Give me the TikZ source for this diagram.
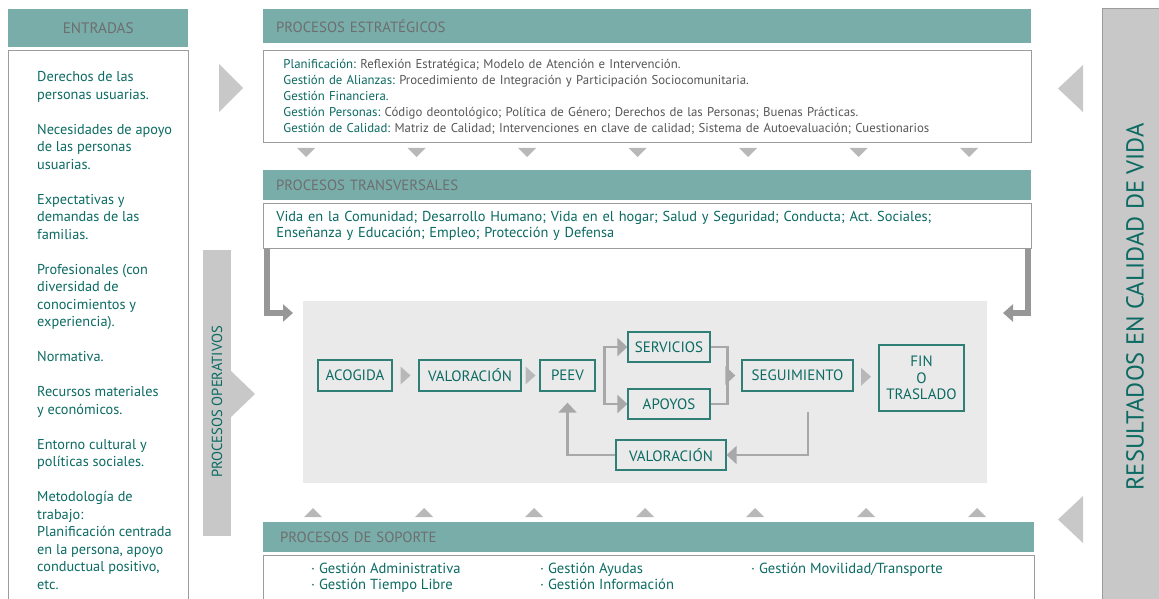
\documentclass[tikz,border=0pt]{standalone}
\usepackage{fontspec}
\setmainfont{PT Sans}
\usepackage{xcolor}
\usetikzlibrary{arrows.meta,calc,positioning}
\definecolor{headteal}{HTML}{78ADAA}
\definecolor{txtteal}{HTML}{0B6A62}
\definecolor{headtxt}{HTML}{6E6E6E}
\definecolor{bodygray}{HTML}{575757}
\definecolor{boxline}{HTML}{9C9C9C}
\definecolor{nodeteal}{HTML}{2F7F77}
\definecolor{flowgray}{HTML}{A8A8A8}
\definecolor{trigray}{HTML}{B8B8B8}
\definecolor{biggray}{HTML}{C8C8C8}
\definecolor{panelgray}{HTML}{EAEAEA}
\newcommand{\lbl}[1]{\textcolor{txtteal}{#1}}
\newcommand{\fs}[2]{\fontsize{#1}{#2}\selectfont}
\frenchspacing

\begin{document}
\begin{tikzpicture}[x=1pt,y=-1pt,
  head/.style={fill=headteal,text=headtxt,anchor=north west,inner ysep=0pt,align=left,font=\fs{14.8}{16}},
  box/.style={draw=boxline,line width=0.9pt,fill=white,anchor=north west,align=left,inner ysep=0pt},
  step box/.style={draw=nodeteal,line width=1.3pt,text=txtteal,inner sep=0pt,align=center,font=\fs{15}{16.5}},
  flow/.style={draw=flowgray,line width=2.6pt},
  flowtip/.style={flow,-{Triangle[width=18pt,length=10pt]}},
  bigflow/.style={draw=flowgray!90!black,line width=6pt,-{Triangle[width=17pt,length=10pt]}},
  tri/.style={fill=trigray}]
\useasboundingbox (0,0) rectangle (1159,599);

% entradas
\node[head,text width=180pt,inner xsep=0pt,minimum height=38pt,align=center,font=\fs{15.2}{16}] (Ent) at (8,9) {ENTRADAS};
\draw[draw=boxline,line width=0.9pt] (8,610) -- (8,50) -- (188,50) -- (188,610);
\node[anchor=north west,inner sep=0pt,align=left,text=txtteal,font=\fs{14.3}{17.5}] (EntTxt) at (37,71.5) {%
Derechos de las\\personas usuarias.\\[17.5pt]
Necesidades de apoyo\\de las personas\\usuarias.\\[17.5pt]
Expectativas y\\demandas de las\\familias.\\[17.5pt]
Profesionales (con\\diversidad de\\conocimientos y\\experiencia).\\[17.5pt]
Normativa.\\[17.5pt]
Recursos materiales\\y económicos.\\[17.5pt]
Entorno cultural y\\políticas sociales.\\[17.5pt]
Metodología de\\trabajo:\\Planificación centrada\\en la persona, apoyo\\conductual positivo,\\etc.};
\fill[biggray] (219,64) -- (243,88) -- (219,112) -- cycle;

% procesos estrategicos
\node[head,text width=742pt,inner xsep=13pt,minimum height=34pt] (Est) at (263,9) {PROCESOS ESTRATÉGICOS};
\node[box,text width=728pt,inner xsep=20pt,minimum height=92pt,text=bodygray,font=\fs{12.8}{16}] (EstBox) at (263,50) {%
\lbl{Planificación:} Reflexión Estratégica; Modelo de Atención e Intervención.\\
\lbl{Gestión de Alianzas:} Procedimiento de Integración y Participación Sociocomunitaria.\\
\lbl{Gestión Financiera.}\\
\lbl{Gestión Personas:} Código deontológico; Política de Género; Derechos de las Personas; Buenas Prácticas.\\
\lbl{Gestión de Calidad:} Matriz de Calidad; Intervenciones en clave de calidad; Sistema de Autoevaluación; Cuestionarios};
\foreach \x in {306,416.5,527,637.5,748,858.5,969}
  \fill[tri] (\x-9,148) -- (\x+9,148) -- (\x,157) -- cycle;

% procesos transversales
\node[head,text width=742pt,inner xsep=13pt,minimum height=30pt] (Tra) at (263,170) {PROCESOS TRANSVERSALES};
\node[box,text width=742pt,inner xsep=13pt,minimum height=45pt,text=txtteal,font=\fs{14.4}{16.5}] (TraBox) at (263,203) {%
Vida en la Comunidad; Desarrollo Humano; Vida en el hogar; Salud y Seguridad; Conducta; Act. Sociales;\\
Enseñanza y Educación; Empleo; Protección y Defensa};
\coordinate (inL) at (293,313);
\coordinate (inR) at (1003,313);
\draw[bigflow] ([xshift=3.5pt]TraBox.south west) |- (inL);
\draw[bigflow] ([xshift=-3.5pt]TraBox.south east) |- (inR);

% procesos operativos
\fill[biggray] (203,250) rectangle (231,536);
\fill[biggray] (231,371) -- (255,394) -- (231,417) -- cycle;
\node[rotate=90,text=txtteal,font=\fs{14.6}{16}] (Op) at (217,402) {PROCESOS OPERATIVOS};
\fill[panelgray] (303,301) rectangle (987,483);

\node[step box,minimum width=74pt,minimum height=31pt] (Aco) at (355,375.5) {ACOGIDA};
\node[step box,minimum width=102pt,minimum height=31pt] (Val) at (470,375.5) {VALORACIÓN};
\node[step box,minimum width=55pt,minimum height=31pt] (Peev) at (567.5,375.5) {PEEV};
\node[step box,minimum width=82pt,minimum height=30pt] (Serv) at (669,347) {SERVICIOS};
\node[step box,minimum width=82pt,minimum height=30pt] (Apo) at (669,404) {APOYOS};
\node[step box,minimum width=111pt,minimum height=31pt] (Seg) at (797.5,375.5) {SEGUIMIENTO};
\node[step box,minimum width=85pt,minimum height=66pt] (Fin) at (921.5,378) {FIN\\O\\TRASLADO};
\node[step box,minimum width=110pt,minimum height=30pt] (Val2) at (671,455) {VALORACIÓN};

\foreach \a/\b in {Aco/Val,Val/Peev,Seg/Fin}
  \fill[tri] ($(\a.east)!0.5!(\b.west)+(-5,-9)$) -- ++(10,9) -- ++(-10,9) -- cycle;
\draw[flowtip] ($(Peev.east)+(9,0)$) |- (Serv.west);
\draw[flowtip] ($(Peev.east)+(9,0)$) |- (Apo.west);
\draw[flow] (Serv.east) -- ++(17,0) |- (Apo.east);
\coordinate (M) at ($(Serv.east)!0.5!(Apo.east)+(16,0)$);
\draw[flowtip] (M) -- ([xshift=-6pt]Seg.west);
\coordinate (B) at ($(Seg.south)+(10.5,20)$);
\draw[flowtip] (B) |- (Val2.east);
\draw[flowtip] (Val2.west) -| ([yshift=-11pt]Peev.south);

% procesos de soporte
\foreach \x in {313,424,534,645,755,866,977}
  \fill[tri] (\x-9,517) -- (\x+9,517) -- (\x,508) -- cycle;
\node[head,text width=737pt,inner xsep=17pt,minimum height=30pt] (Sop) at (263,522) {PROCESOS DE SOPORTE};
\draw[draw=boxline,line width=0.9pt] (263,610) -- (263,555) -- (1034,555) -- (1034,610);
\node[anchor=north west,inner sep=0pt,align=left,text=txtteal,font=\fs{14.6}{16}] (S1) at (311,563) {· Gestión Administrativa\\· Gestión Tiempo Libre};
\node[anchor=north west,inner sep=0pt,align=left,text=txtteal,font=\fs{14.6}{16}] (S2) at (540,563) {· Gestión Ayudas\\· Gestión Información};
\node[anchor=north west,inner sep=0pt,align=left,text=txtteal,font=\fs{14.6}{16}] (S3) at (751,563) {· Gestión Movilidad/Transporte};

% resultados
\draw[draw=boxline,line width=0.9pt,fill=biggray] (1102,610) -- (1102,8) -- (1170,8) -- (1170,610);
\fill[biggray] (1083,65) -- (1058,88.5) -- (1083,112) -- cycle;
\fill[biggray] (1083,496) -- (1058,519.5) -- (1083,543) -- cycle;
\node[rotate=90,text=txtteal,font=\fs{24.5}{28}] (Res) at (1135,307) {RESULTADOS EN CALIDAD DE VIDA};
\end{tikzpicture}
\end{document}
